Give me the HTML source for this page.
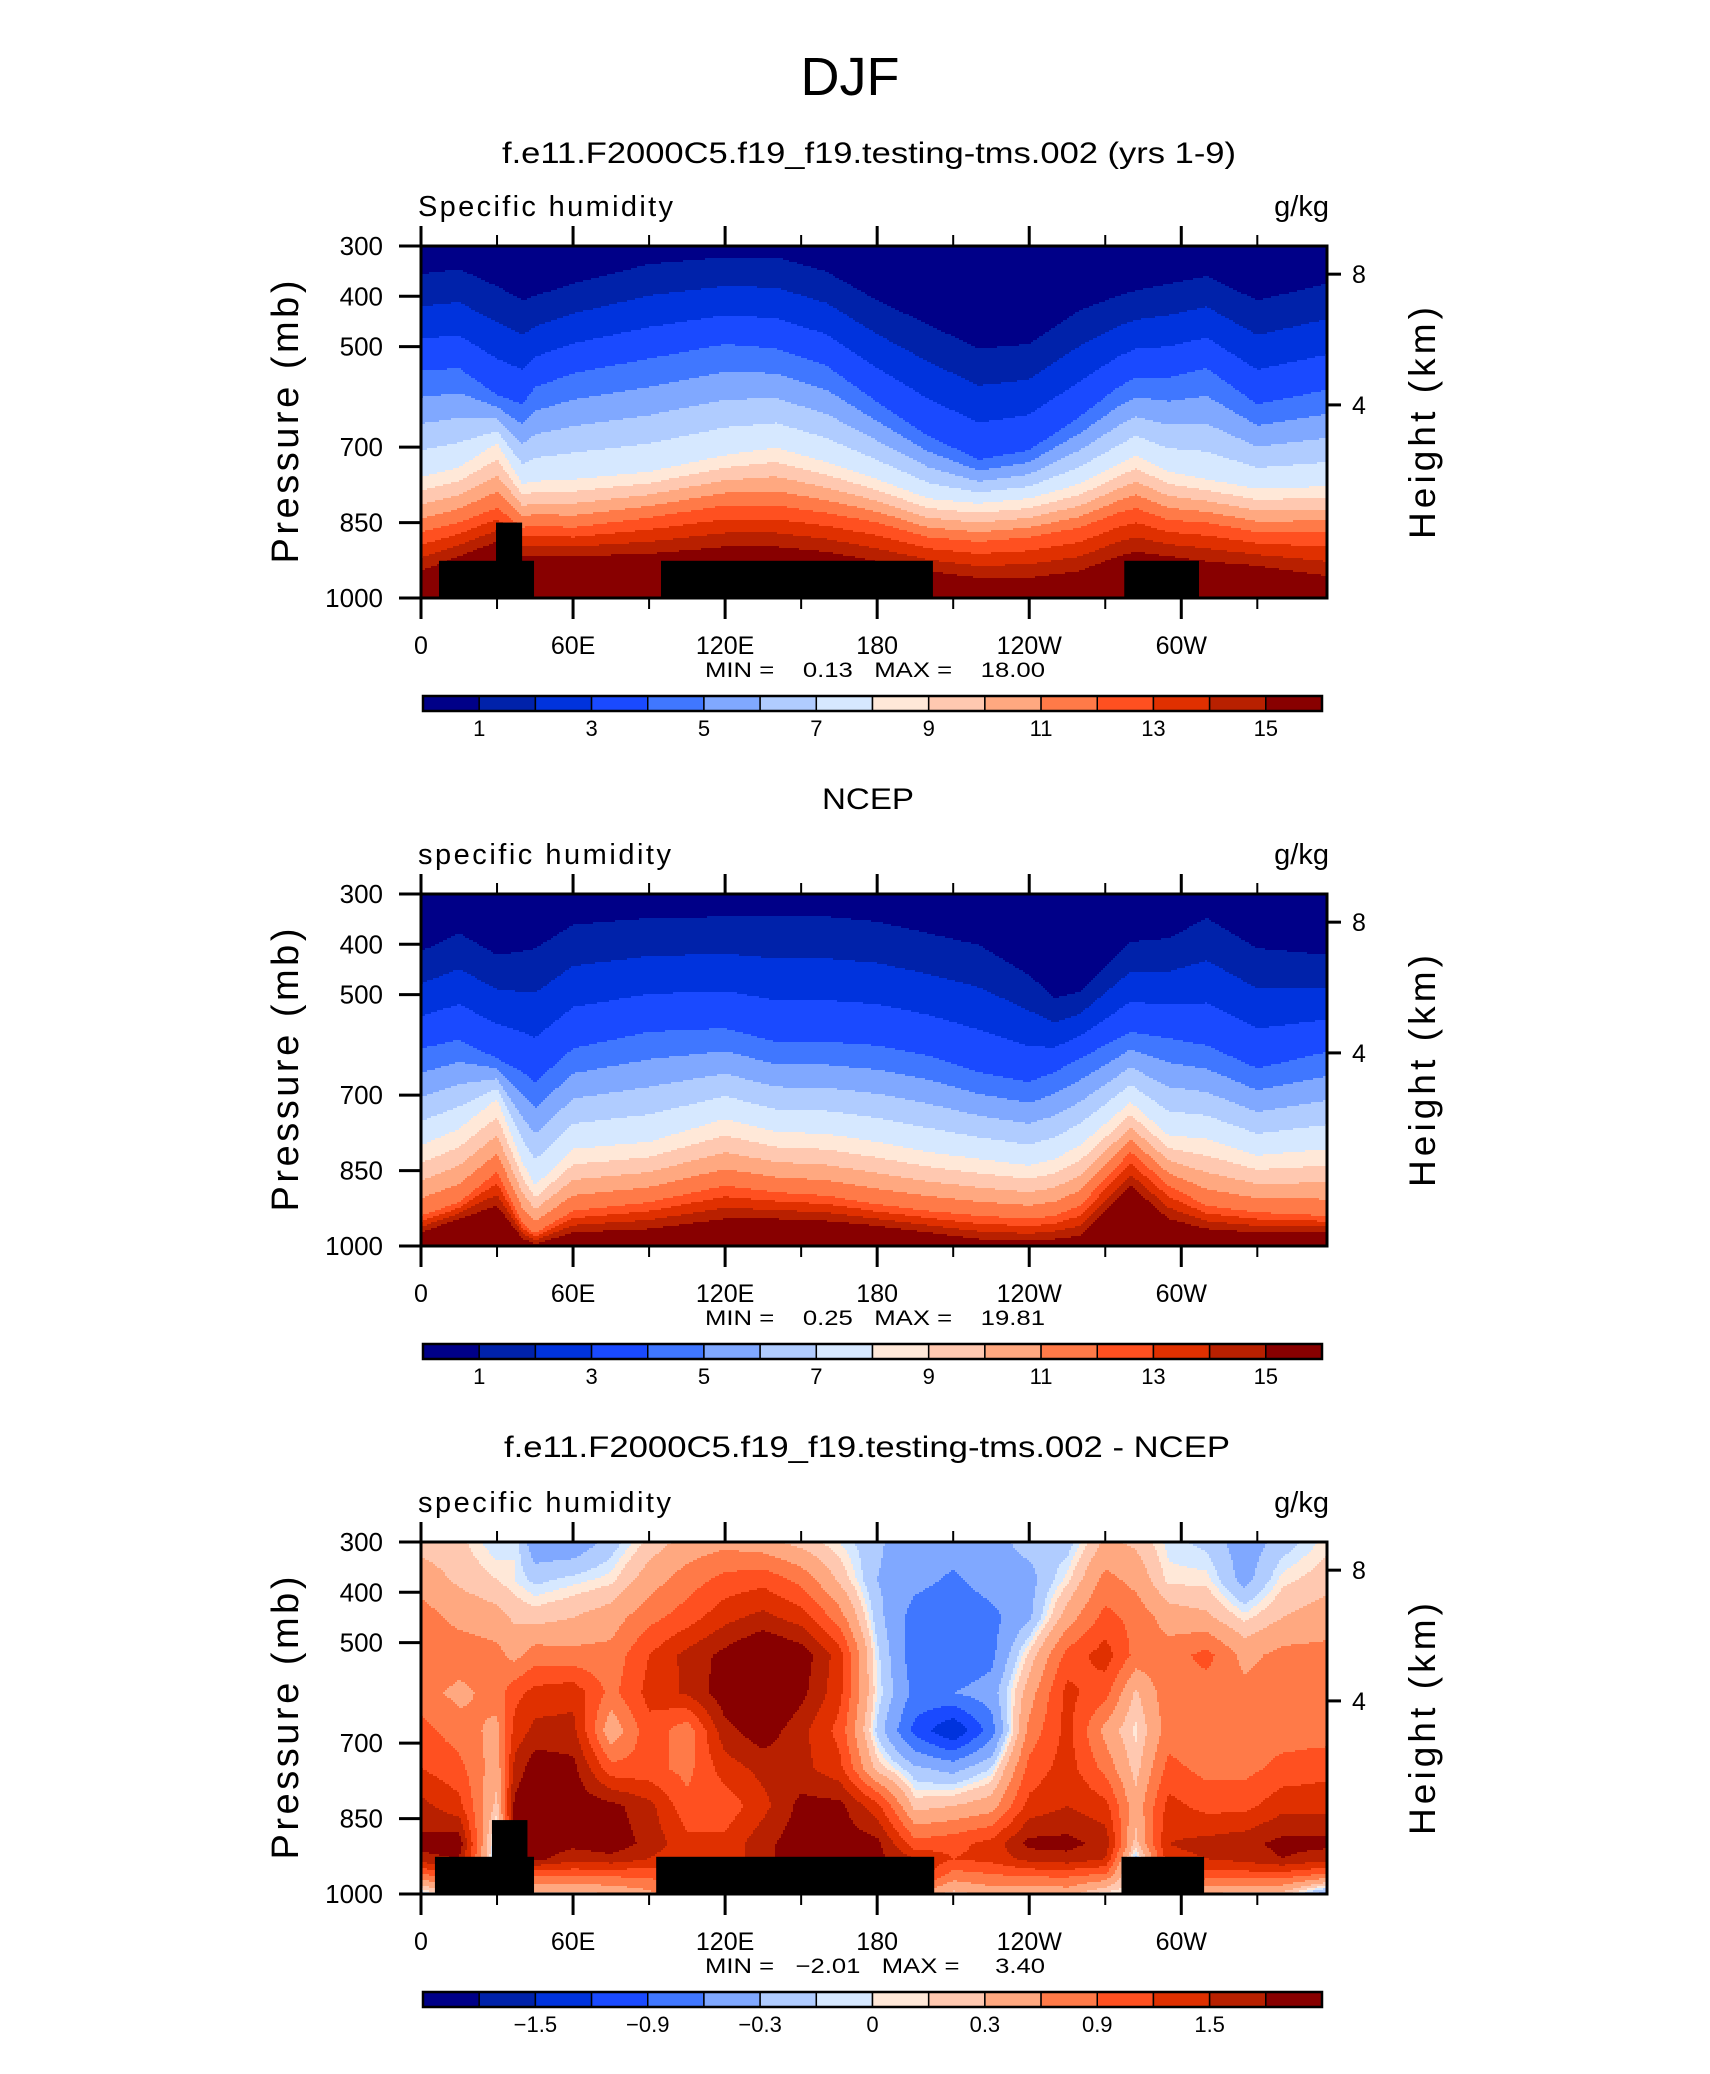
<!DOCTYPE html>
<html><head><meta charset="utf-8"><title>DJF Specific humidity</title>
<style>
html,body{margin:0;padding:0;background:#fff;}
svg{display:block;font-family:"Liberation Sans",Arial,sans-serif;}
</style></head>
<body>
<svg id="fig" width="1710" height="2074" viewBox="0 0 1710 2074" xmlns="http://www.w3.org/2000/svg">
<rect x="0" y="0" width="1710" height="2074" fill="#ffffff"/>
<text x="850" y="95" font-size="54" text-anchor="middle">DJF</text>

<text x="869" y="163" font-size="30" text-anchor="middle" textLength="734" lengthAdjust="spacingAndGlyphs">f.e11.F2000C5.f19_f19.testing-tms.002 (yrs 1-9)</text>
<text x="418" y="216" font-size="29" textLength="255" lengthAdjust="spacing">Specific humidity</text>
<text x="1329" y="216" font-size="29" text-anchor="end">g/kg</text>
<text x="875" y="677" font-size="21" text-anchor="middle" textLength="340" lengthAdjust="spacingAndGlyphs" xml:space="preserve">MIN =    0.13   MAX =    18.00</text>

<text x="868" y="809" font-size="30" text-anchor="middle" textLength="92" lengthAdjust="spacingAndGlyphs">NCEP</text>
<text x="418" y="864" font-size="29" textLength="253" lengthAdjust="spacing">specific humidity</text>
<text x="1329" y="864" font-size="29" text-anchor="end">g/kg</text>
<text x="875" y="1325" font-size="21" text-anchor="middle" textLength="340" lengthAdjust="spacingAndGlyphs" xml:space="preserve">MIN =    0.25   MAX =    19.81</text>

<text x="867" y="1457" font-size="30" text-anchor="middle" textLength="726" lengthAdjust="spacingAndGlyphs">f.e11.F2000C5.f19_f19.testing-tms.002 - NCEP</text>
<text x="418" y="1512" font-size="29" textLength="253" lengthAdjust="spacing">specific humidity</text>
<text x="1329" y="1512" font-size="29" text-anchor="end">g/kg</text>
<text x="875" y="1973" font-size="21" text-anchor="middle" textLength="340" lengthAdjust="spacingAndGlyphs" xml:space="preserve">MIN =   −2.01   MAX =     3.40</text>
</svg>

<script>
// ---------- data ----------
const PALETTE = ["#000088","#0022aa","#0033dd","#1a4aff","#4077ff","#80a8ff","#b0ccff","#d6e8ff",
                 "#ffe8d8","#ffc8b0","#ffa880","#ff7a48","#ff5020","#e03000","#b82000","#880000"];
const anchorLevels = [1,4,8,12,15];

// Panel 1 (model): pressure (mb) of contour levels 1,4,8,12,15 g/kg at each longitude
const modelLons = [0,15,30,40,45,60,90,120,140,160,180,200,220,240,260,275,282,295,310,330,357.5];
const modelL1  = [356,346,380,408,399,375,336,322,322,351,408,456,504,495,428,399,389,375,360,408,375];
const modelL4  = [548,543,596,615,581,553,524,495,504,538,610,677,725,706,639,581,562,562,543,615,586];
const modelL8  = [759,740,692,773,768,764,749,716,701,730,764,802,812,802,773,735,716,749,764,783,778];
const modelL12 = [869,850,821,860,855,860,840,816,816,831,850,879,888,879,860,831,821,845,850,869,869];
const modelL15 = [946,917,888,917,915,917,912,898,898,908,927,946,960,960,946,917,908,917,927,936,956];

// Panel 2 (NCEP)
const ncepLons = [0,15,30,40,45,60,90,120,140,160,180,200,220,240,250,260,280,295,310,330,357.5];
const ncepL1  = [414,378,421,414,408,361,348,345,345,345,355,378,401,461,507,494,395,388,348,408,421];
const ncepL4  = [607,590,627,654,674,607,574,567,594,594,601,621,654,674,654,627,574,587,601,647,614];
const ncepL8  = [800,767,707,833,880,807,793,747,773,777,793,813,827,840,827,800,714,780,787,820,807];
const ncepL12 = [940,913,853,955,975,930,913,880,893,900,917,930,940,946,940,920,813,880,920,933,940];
const ncepL15 = [973,946,920,985,996,973,966,946,946,950,960,973,986,990,986,980,880,946,966,973,973];

// Panel 3 (difference) grid: one row per longitude, values at diffPressures
const diffLons = [0,15,30,37,45,60,75,90,105,120,135,150,165,180,195,210,225,240,255,270,282,295,310,325,340,357.5];
const diffPressures = [300,375,450,525,600,675,750,825,900,930,960,1000];
const diffGrid = [
 [0.2,0.45,0.75,0.85,0.75,1.0,1.2,1.6,1.9,1.7,0.9,-0.2],
 [0.15,0.25,0.5,0.8,0.5,0.75,1.0,1.3,2.0,1.8,1.2,0.5],
 [-0.1,0.1,0.4,0.7,0.75,0.5,0.4,0.2,-0.3,-0.3,-0.3,0],
 [0,0,0.25,0.5,1.1,1.3,1.6,1.9,1.9,1.7,1.2,0.5],
 [-0.5,-0.15,0.2,0.75,1.3,1.6,2.0,2.1,2.0,1.9,1.0,0.2],
 [-0.5,-0.05,0.3,0.7,1.4,1.6,1.9,2.0,1.9,1.6,1.0,0.2],
 [-0.2,0.05,0.45,0.7,0.8,0.35,1.0,1.9,2.0,1.7,1.0,0.3],
 [0.15,0.45,0.8,1.2,1.3,1.1,1.0,1.6,1.7,1.5,1.0,0.5],
 [0.4,0.75,1.05,1.6,1.55,0.7,0.8,1.0,1.3,1.2,1.2,1.0],
 [0.5,1.0,1.4,1.9,2.0,1.7,1.35,1.0,1.3,1.3,1.2,1.0],
 [0.4,1.1,1.6,2.2,2.3,2.0,1.6,1.4,1.7,1.7,1.6,1.0],
 [0.2,0.8,1.35,2.0,1.9,1.6,1.6,1.9,2.0,2.0,1.9,1.0],
 [0.0,0.25,0.75,1.35,1.3,1.1,1.3,1.9,2.0,2.0,1.9,1.0],
 [-0.25,-0.3,-0.2,-0.05,0.0,-0.15,0.2,1.3,1.9,1.9,1.9,1.0],
 [-0.5,-0.5,-0.75,-0.8,-0.7,-1.0,-0.25,0.2,1.0,1.5,1.5,0.5],
 [-0.45,-0.65,-0.85,-0.9,-0.6,-1.5,-0.4,0.3,1.1,1.2,0.8,0.2],
 [-0.4,-0.45,-0.7,-0.7,-0.45,-0.75,-0.1,0.45,1.3,1.3,0.9,0.4],
 [-0.2,-0.4,-0.35,0.15,0.45,0.7,1.0,1.3,1.9,1.6,1.0,0.3],
 [-0.2,0.05,0.45,1.0,1.3,1.3,1.35,1.5,1.9,1.7,1.0,0.4],
 [0.35,0.7,1.0,1.35,1.0,0.5,0.8,1.3,1.7,1.5,0.9,0.0],
 [0.25,0.5,0.8,0.8,0.25,0.05,0.2,0.4,0.2,-0.2,-0.2,0],
 [-0.05,0.05,0.45,0.75,0.8,0.75,1.0,1.3,1.5,1.4,1.2,0.5],
 [-0.15,0.05,0.35,1.0,0.75,0.6,0.8,1.1,1.6,1.5,1.1,0.3],
 [-0.45,-0.4,0.05,0.5,0.7,0.75,0.8,1.1,1.7,1.6,1.1,0.2],
 [-0.2,0.05,0.3,0.7,0.75,0.75,1.0,1.4,1.9,1.8,1.1,0.2],
 [0.05,0.2,0.45,0.7,0.7,0.75,1.1,1.4,1.9,1.6,0.9,-0.5]
];
const diffLevels = [-1.8,-1.5,-1.2,-0.9,-0.6,-0.3,-0.1,0,0.1,0.3,0.6,0.9,1.2,1.5,1.8];

// topography masks: [lonStart, lonEnd, topPressure]
const topoModel = [[7.1,44.6,926],[29.6,39.9,850],[94.7,202,926],[277.5,307,926]];
const topoDiff  = [[5.5,44.6,926],[28,42,853],[92.8,202.5,926],[276.4,309,926]];

// axes
const pressureTicks = [300,400,500,700,850,1000];
const lonMajorTicks = [0,60,120,180,240,300];
const lonMajorLabels = ["0","60E","120E","180","120W","60W"];
const lonMinorTicks = [30,90,150,210,270,330];
const heightTickP = [356,616];
const heightTickLabels = ["8","4"];
const qLabelIdx = [1,3,5,7,9,11,13,15];
const qLabels = ["1","3","5","7","9","11","13","15"];
const dLabelIdx = [2,4,6,8,10,12,14];
const dLabels = ["\u22121.5","\u22120.9","\u22120.3","0","0.3","0.9","1.5"];

// ---------- rendering ----------
const NS = "http://www.w3.org/2000/svg";
const svg = document.getElementById("fig");
const X0 = 421, PW = 906, PH = 352, LONMAX = 357.5;
function xS(lon){ return X0 + lon*PW/LONMAX; }
function yS(T,p){ return T + (p-300)*PH/700; }
function mk(tag, attrs, parent){
  const e = document.createElementNS(NS, tag);
  for (const k in attrs) e.setAttribute(k, attrs[k]);
  (parent||svg).appendChild(e);
  return e;
}
function interpAt(xs, ys, x){
  if (x <= xs[0]) return ys[0];
  for (let i=1;i<xs.length;i++){
    if (x <= xs[i]) { const t=(x-xs[i-1])/(xs[i]-xs[i-1]); return ys[i-1]+t*(ys[i]-ys[i-1]); }
  }
  return ys[ys.length-1];
}
function levelFn(lons, arrs){
  return function(lon,p){
    const a = arrs.map(arr => interpAt(lons, arr, lon));
    let v;
    if (p <= a[0]) v = 1 - (a[0]-p)*3/(a[1]-a[0]);
    else if (p >= a[4]) v = 15 + (p-a[4])*3/Math.max(5,(a[4]-a[3]));
    else {
      for (let i=1;i<5;i++){ if (p<=a[i]) { v = anchorLevels[i-1] + (p-a[i-1])/(a[i]-a[i-1])*(anchorLevels[i]-anchorLevels[i-1]); break; } }
    }
    return Math.max(0, Math.min(15, Math.floor(v)));
  };
}
function diffFn(lon,p){
  let i=0; while (i<diffLons.length-2 && lon>diffLons[i+1]) i++;
  let j=0; while (j<diffPressures.length-2 && p>diffPressures[j+1]) j++;
  const tx = Math.max(0,Math.min(1,(lon-diffLons[i])/(diffLons[i+1]-diffLons[i])));
  const ty = Math.max(0,Math.min(1,(p-diffPressures[j])/(diffPressures[j+1]-diffPressures[j])));
  const v = (1-tx)*(1-ty)*diffGrid[i][j] + tx*(1-ty)*diffGrid[i+1][j] + (1-tx)*ty*diffGrid[i][j+1] + tx*ty*diffGrid[i+1][j+1];
  let c=0; for (const b of diffLevels) if (v>=b) c++;
  return c;
}

function drawPanel(T, name, fn, topo, cbLabelIdx, cbLabels){
  const g = mk("g", {});
  
  
  const field = mk("g", {"shape-rendering":"crispEdges"}, g);
  
  
  const step = 2;
  for (let y=0; y<PH; y+=step){
    const p = 300 + (y+step/2)/PH*700;
    let start = 0, cur = -1;
    const h = Math.min(step, PH-y);
    for (let x=0; x<=PW; x+=step){
      const c = x<PW ? fn((x+step/2)/PW*LONMAX, p) : -2;
      if (c !== cur){
        if (cur >= 0){
          const r = mk("rect", {x:X0+start, y:T+y, width:Math.min(x,PW)-start, height:h, fill:PALETTE[cur]}, field);
          
          
        }
        start = x; cur = c;
      }
    }
  }
  if (topo){
    for (const t of topo){
      const r = mk("rect", {x:xS(t[0]), y:yS(T,t[2]), width:xS(t[1])-xS(t[0]), height:yS(T,1000)-yS(T,t[2]), fill:"#000"}, g);
      
      
    }
  }
  const fr = mk("rect", {x:X0, y:T, width:PW, height:PH, fill:"none", stroke:"#000", "stroke-width":3}, g);
  
  
  pressureTicks.forEach(pv => {
    const y = yS(T,pv);
    const l = mk("line", {x1:X0-22, x2:X0, y1:y, y2:y, stroke:"#000", "stroke-width":3}, g);
    
    
    const t = mk("text", {x:383, y:y+9, "font-size":26, "text-anchor":"end"}, g);
    t.textContent = String(pv);
    
    
  });
  lonMajorTicks.forEach((lv,i) => {
    const x = xS(lv);
    const a = mk("line", {x1:x, x2:x, y1:T-20, y2:T, stroke:"#000", "stroke-width":3}, g);
    
    
    const b = mk("line", {x1:x, x2:x, y1:T+PH, y2:T+PH+21, stroke:"#000", "stroke-width":3}, g);
    
    
    const t = mk("text", {x:x, y:T+408, "font-size":25, "text-anchor":"middle"}, g);
    t.textContent = lonMajorLabels[i];
    
    
  });
  lonMinorTicks.forEach(lv => {
    const x = xS(lv);
    const a = mk("line", {x1:x, x2:x, y1:T-11, y2:T, stroke:"#000", "stroke-width":2}, g);
    
    
    const b = mk("line", {x1:x, x2:x, y1:T+PH, y2:T+PH+11, stroke:"#000", "stroke-width":2}, g);
    
    
  });
  heightTickP.forEach((pv,i) => {
    const y = yS(T,pv);
    const l = mk("line", {x1:X0+PW, x2:X0+PW+14, y1:y, y2:y, stroke:"#000", "stroke-width":3}, g);
    
    
    const t = mk("text", {x:1352, y:y+9, "font-size":25}, g);
    t.textContent = heightTickLabels[i];
    
    
  });
  const yt = mk("text", {x:0, y:0, "font-size":38, "text-anchor":"middle", textLength:283, lengthAdjust:"spacing", transform:"translate(298,"+(T+176)+") rotate(-90)"}, g);
  yt.textContent = "Pressure (mb)";
  
  
  const ht = mk("text", {x:0, y:0, "font-size":37, "text-anchor":"middle", textLength:232, lengthAdjust:"spacing", transform:"translate(1435,"+(T+177)+") rotate(-90)"}, g);
  ht.textContent = "Height (km)";
  
  
  const cbX = 423, cbW = 899, cbY = T+450, cbH = 15, seg = cbW/16;
  for (let k=0;k<16;k++){
    const r = mk("rect", {x:cbX+k*seg, y:cbY, width:seg, height:cbH, fill:PALETTE[k], stroke:"#000", "stroke-width":1.5}, g);
    
    
  }
  const cbf = mk("rect", {x:cbX, y:cbY, width:cbW, height:cbH, fill:"none", stroke:"#000", "stroke-width":2.5}, g);
  
  
  cbLabelIdx.forEach((bi,i) => {
    const t = mk("text", {x:cbX+bi*seg, y:T+490, "font-size":22, "text-anchor":"middle"}, g);
    t.textContent = cbLabels[i];
    
    
  });
}

drawPanel(246, "panel-model", levelFn(modelLons, [modelL1,modelL4,modelL8,modelL12,modelL15]), topoModel, qLabelIdx, qLabels);
drawPanel(894, "panel-ncep", levelFn(ncepLons, [ncepL1,ncepL4,ncepL8,ncepL12,ncepL15]), null, qLabelIdx, qLabels);
drawPanel(1542, "panel-difference", diffFn, topoDiff, dLabelIdx, dLabels);
</script>
</body></html>
